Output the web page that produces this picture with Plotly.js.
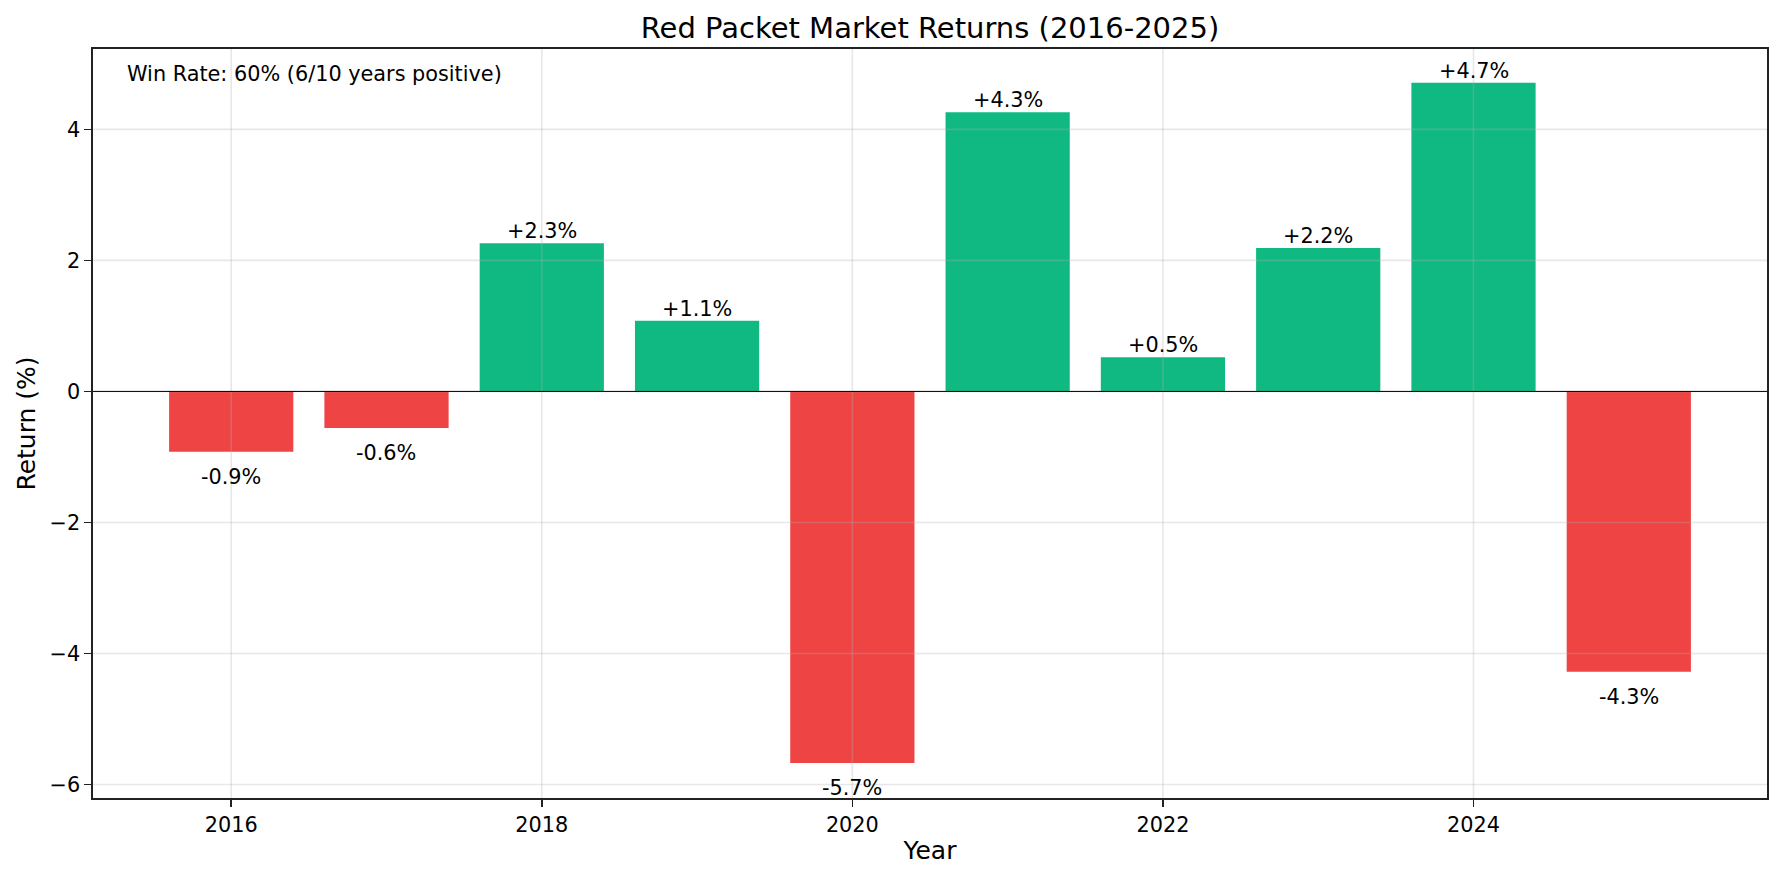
<!DOCTYPE html>
<html>
<head>
<meta charset="utf-8">
<script src="https://cdn.plot.ly/plotly-3.0.1.min.js"></script>
<style>
  html, body { margin: 0; padding: 0; background: #ffffff; }
  #chart { width: 1782px; height: 880px; }
</style>
</head>
<body>
<div id="chart"></div>
<script>
// ---- Data ----
const years = [2016, 2017, 2018, 2019, 2020, 2021, 2022, 2023, 2024, 2025];
const returns = [-0.92, -0.56, 2.26, 1.08, -5.67, 4.26, 0.52, 2.19, 4.71, -4.28];
const xTickVals = [2016, 2018, 2020, 2022, 2024];
const yTickVals = [-6, -4, -2, 0, 2, 4];
const titleText = "Red Packet Market Returns (2016-2025)";
const xLabel = "Year";
const yLabel = "Return (%)";

const GREEN = "#10b981";
const RED = "#ef4444";
const FONT = "DejaVu Sans, Verdana, sans-serif";

const positives = returns.filter(v => v > 0).length;
const winRate = Math.round(100 * positives / returns.length);
const winText = "Win Rate: " + winRate + "% (" + positives + "/" + returns.length + " years positive)";

const barColors = returns.map(v => v >= 0 ? GREEN : RED);

const trace = {
  type: "bar",
  x: years,
  y: returns,
  width: 0.8,
  marker: { color: barColors, line: { width: 0 } },
  hoverinfo: "skip",
  showlegend: false
};

const fmt = v => (v > 0 ? "+" : "") + v.toFixed(1) + "%";

const annotations = years.map((yr, i) => {
  const v = returns[i];
  return {
    x: yr, y: v, xref: "x", yref: "y",
    text: fmt(v),
    showarrow: false,
    xanchor: "center",
    yanchor: v >= 0 ? "bottom" : "top",
    yshift: v >= 0 ? -2 : -11,
    font: { family: FONT, size: 20.8, color: "#000000" }
  };
});

annotations.push({
  x: 0.02, y: 0.98, xref: "paper", yref: "paper",
  text: winText, showarrow: false,
  xanchor: "left", yanchor: "top",
  xshift: -1, yshift: 4,
  font: { family: FONT, size: 20.8, color: "#000000" }
});

const gridColor = "rgba(176,176,176,0.3)";
const shapes = [];
xTickVals.forEach(t => shapes.push({
  type: "line", xref: "x", yref: "paper", x0: t, x1: t, y0: 0, y1: 1,
  line: { color: gridColor, width: 1.6 }, layer: "above"
}));
yTickVals.forEach(t => shapes.push({
  type: "line", xref: "paper", yref: "y", x0: 0, x1: 1, y0: t, y1: t,
  line: { color: gridColor, width: 1.6 }, layer: "above"
}));
// zero reference line
shapes.push({
  type: "line", xref: "paper", yref: "y", x0: 0, x1: 1, y0: 0, y1: 0,
  line: { color: "#000000", width: 1 }, layer: "above"
});

const axisCommon = {
  showline: true, mirror: true, linecolor: "#222222", linewidth: 1.6,
  ticks: "outside", ticklen: 7, tickwidth: 1.6, tickcolor: "#222222",
  showgrid: false, zeroline: false,
  tickfont: { family: FONT, size: 20.8, color: "#000000" }
};

const layout = {
  width: 1782, height: 880,
  paper_bgcolor: "#ffffff", plot_bgcolor: "#ffffff",
  margin: { l: 93, r: 15, t: 49, b: 82, pad: 0 },
  font: { family: FONT, color: "#000000" },
  title: {
    text: titleText,
    font: { family: FONT, size: 29, color: "#000000" },
    x: 0.5, xref: "paper", xanchor: "center",
    y: 0.968, yref: "container", yanchor: "middle"
  },
  xaxis: Object.assign({}, axisCommon, {
    range: [2015.11, 2025.89],
    tickmode: "array", tickvals: xTickVals, ticktext: xTickVals.map(String),
    title: { text: xLabel, font: { family: FONT, size: 25, color: "#000000" }, standoff: 6 },
    automargin: false
  }),
  yaxis: Object.assign({}, axisCommon, {
    range: [-6.205, 5.226],
    tickmode: "array", tickvals: yTickVals,
    title: { text: yLabel, font: { family: FONT, size: 25, color: "#000000" }, standoff: 7 },
    automargin: false
  }),
  annotations: annotations,
  shapes: shapes,
  bargap: 0.2,
  showlegend: false
};

Plotly.newPlot("chart", [trace], layout, { staticPlot: true, displayModeBar: false });
</script>
</body>
</html>
